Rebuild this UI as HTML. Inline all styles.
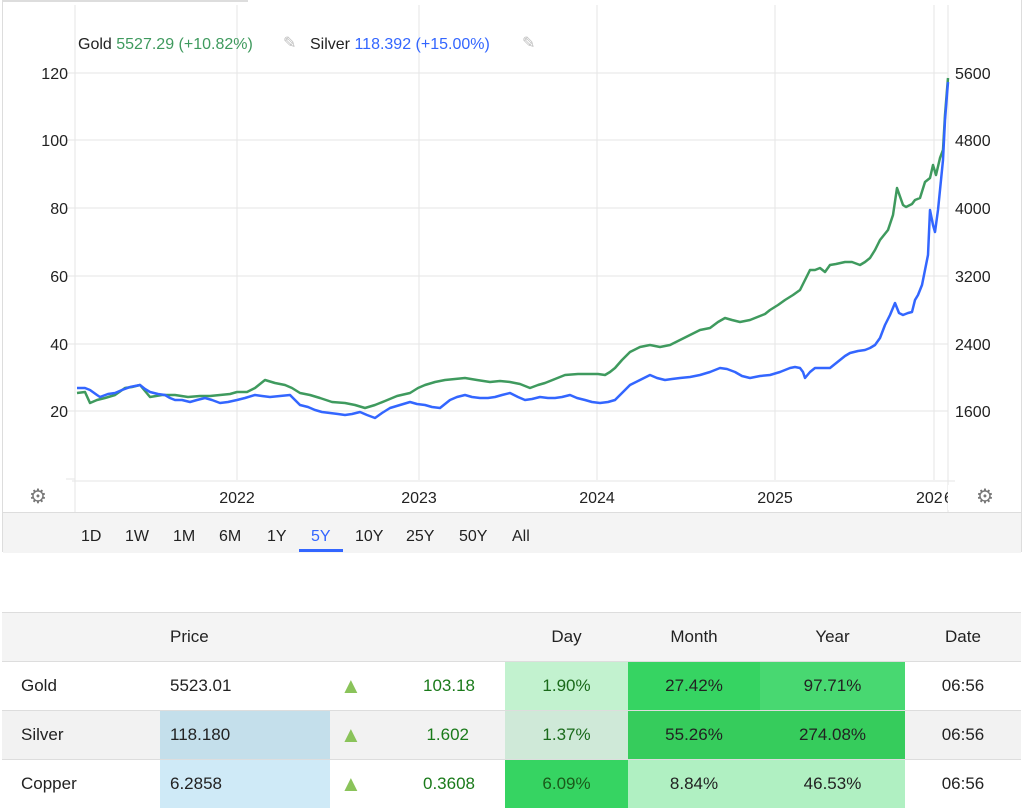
<!DOCTYPE html>
<html><head><meta charset="utf-8"><style>
body{margin:0;background:#fff;font-family:"Liberation Sans",Arial,sans-serif;width:1024px;height:809px;overflow:hidden;position:relative}
.abs{position:absolute}
table{position:absolute;left:2px;top:612px;width:1019px;border-collapse:collapse;font-size:17px;color:#222;table-layout:fixed}
td{height:48px;border-top:1px solid #ddd;padding:0}
.ar{color:#8ac35a;padding-left:10px;font-size:22px}
</style></head><body>
<div class="abs" style="left:2px;top:0;width:1018px;height:551px;border:1px solid #ddd;border-top:none"></div>
<div class="abs" style="left:2px;top:0;width:246px;height:2px;background:#ddd"></div>
<div class="abs" style="left:3px;top:512px;width:1018px;height:40px;background:#f4f4f4;border-top:1px solid #ddd"></div>
<svg class="abs" style="left:0;top:0" width="1024" height="560">
<g stroke="#e6e6e6" stroke-width="1">
<line x1="75" y1="73" x2="948" y2="73"/><line x1="75" y1="140" x2="948" y2="140"/><line x1="75" y1="208" x2="948" y2="208"/><line x1="75" y1="276" x2="948" y2="276"/><line x1="75" y1="344" x2="948" y2="344"/><line x1="75" y1="411" x2="948" y2="411"/>
<line x1="66" y1="73" x2="75" y2="73"/><line x1="66" y1="140" x2="75" y2="140"/><line x1="66" y1="208" x2="75" y2="208"/><line x1="66" y1="276" x2="75" y2="276"/><line x1="66" y1="344" x2="75" y2="344"/><line x1="66" y1="411" x2="75" y2="411"/><line x1="66" y1="479" x2="75" y2="479"/>
<line x1="237" y1="5" x2="237" y2="480"/><line x1="419" y1="5" x2="419" y2="480"/><line x1="597" y1="5" x2="597" y2="480"/><line x1="775" y1="5" x2="775" y2="480"/><line x1="934" y1="5" x2="934" y2="480"/>
<line x1="75" y1="5" x2="75" y2="512"/><line x1="948" y1="5" x2="948" y2="512"/><line x1="72" y1="481" x2="955" y2="481"/>
</g>
<g font-size="16" fill="#222">
<text x="68" y="79" text-anchor="end">120</text><text x="68" y="146" text-anchor="end">100</text><text x="68" y="214" text-anchor="end">80</text><text x="68" y="282" text-anchor="end">60</text><text x="68" y="350" text-anchor="end">40</text><text x="68" y="417" text-anchor="end">20</text>
<text x="955" y="79">5600</text><text x="955" y="146">4800</text><text x="955" y="214">4000</text><text x="955" y="282">3200</text><text x="955" y="350">2400</text><text x="955" y="417">1600</text>
<text x="237" y="503" text-anchor="middle">2022</text><text x="419" y="503" text-anchor="middle">2023</text><text x="597" y="503" text-anchor="middle">2024</text><text x="775" y="503" text-anchor="middle">2025</text><text x="916" y="503">202</text><text x="944" y="503">6</text>
</g>
<rect x="948" y="485" width="10" height="25" fill="#fff"/>
<g font-size="16"><text x="78" y="49" fill="#222">Gold <tspan fill="#3f9a5e">5527.29 (+10.82%)</tspan></text>
<text x="310" y="49" fill="#222">Silver <tspan fill="#3366ff">118.392 (+15.00%)</tspan></text></g>
<text x="283" y="48" font-size="16" fill="#bbb">✎</text><text x="522" y="48" font-size="16" fill="#bbb">✎</text>
<text x="29" y="503" font-size="20" fill="#777">⚙</text><text x="976" y="503" font-size="20" fill="#777">⚙</text>
<polyline fill="none" stroke="#3f9a5e" stroke-width="2.5" stroke-linejoin="round" points="77,393 85,392 90,403 97,400 105,398 115,395 125,388 132,387 140,385 150,397 162,395 175,395 188,397 200,396 210,396 220,395 230,394 237,392 247,392 255,388 265,380 275,383 285,385 292,388 300,393 310,395 320,398 332,402 345,403 355,405 365,408 375,405 385,401 397,396 410,393 418,388 425,385 435,382 445,380 455,379 465,378 477,380 490,382 500,381 510,382 520,384 530,388 538,385 545,383 555,379 565,375 578,374 590,374 598,374 605,375 610,372 615,368 622,360 630,352 640,347 650,345 660,347 670,345 680,340 690,335 700,330 710,328 718,322 725,318 732,320 740,322 750,320 760,316 765,314 770,310 778,305 785,300 793,295 800,290 805,280 810,270 815,270 820,268 825,272 830,265 836,264 845,262 852,262 860,265 865,262 870,258 875,250 880,240 888,230 893,215 897,188 903,205 906,207 912,204 915,200 920,198 925,182 930,178 933,165 936,175 940,158 943,150 945,115 947,90 948,78"/>
<polyline fill="none" stroke="#3366ff" stroke-width="2.5" stroke-linejoin="round" points="77,388 85,388 90,390 97,395 100,397 108,394 115,393 122,390 130,387 140,385 145,389 150,392 158,394 165,395 170,398 175,400 182,400 190,402 197,400 205,398 212,400 220,403 228,402 237,400 245,398 255,395 262,396 270,397 280,396 290,395 295,400 300,405 308,407 315,410 322,412 330,413 338,414 345,415 352,414 360,412 367,415 375,418 382,413 390,408 400,405 410,402 417,404 425,405 432,407 440,408 445,404 450,400 457,397 465,395 472,397 480,398 488,398 495,397 502,395 510,393 518,397 525,400 532,399 540,397 548,398 555,398 562,397 570,395 577,398 585,400 592,402 600,403 608,402 615,400 622,393 630,385 640,380 650,375 657,378 665,380 672,379 680,378 690,377 700,375 710,372 720,368 727,369 735,372 742,376 750,378 760,376 770,375 780,372 790,368 795,367 800,368 803,372 805,378 810,372 815,368 822,368 830,368 835,364 840,360 845,356 850,353 858,351 865,350 870,348 875,345 880,338 885,325 890,315 895,303 899,313 903,315 908,313 912,312 915,300 918,295 922,285 925,270 928,255 930,210 933,225 935,232 938,210 940,190 943,160 945,120 948,82"/>
<g font-size="16" fill="#222">
<text x="81" y="541">1D</text><text x="125" y="541">1W</text><text x="173" y="541">1M</text><text x="219" y="541">6M</text><text x="267" y="541">1Y</text><text x="311" y="541" fill="#3366ff">5Y</text><text x="355" y="541">10Y</text><text x="406" y="541">25Y</text><text x="459" y="541">50Y</text><text x="512" y="541">All</text>
</g>
<rect x="299" y="549" width="44" height="3" fill="#3366ff"/>
</svg>
<table>
<colgroup><col style="width:158px"><col style="width:170px"><col style="width:70px"><col style="width:105px"><col style="width:123px"><col style="width:132px"><col style="width:145px"><col style="width:116px"></colgroup>
<tr style="background:#f4f4f4"><td></td><td style="padding-left:10px">Price</td><td></td><td></td><td style="text-align:center">Day</td><td style="text-align:center">Month</td><td style="text-align:center">Year</td><td style="text-align:center">Date</td></tr>
<tr><td style="padding-left:19px">Gold</td><td style="padding-left:10px">5523.01</td><td class="ar">▲</td><td style="color:#1a7a1a;text-align:right;padding-right:30px">103.18</td><td style="background:#c2f2cf;color:#1a6a1a;text-align:center">1.90%</td><td style="background:#36d462;text-align:center">27.42%</td><td style="background:#48d871;text-align:center">97.71%</td><td style="text-align:center">06:56</td></tr>
<tr style="background:#f2f2f2"><td style="padding-left:19px">Silver</td><td style="padding-left:10px;background:#c4dfeb">118.180</td><td class="ar">▲</td><td style="color:#1a7a1a;text-align:right;padding-right:36px">1.602</td><td style="background:#cfe9d8;color:#1a6a1a;text-align:center">1.37%</td><td style="background:#36cc5c;text-align:center">55.26%</td><td style="background:#36cc5c;text-align:center">274.08%</td><td style="text-align:center">06:56</td></tr>
<tr><td style="padding-left:19px">Copper</td><td style="padding-left:10px;background:#cfeaf7">6.2858</td><td class="ar">▲</td><td style="color:#1a7a1a;text-align:right;padding-right:30px">0.3608</td><td style="background:#36d462;color:#1a5a1a;text-align:center">6.09%</td><td style="background:#b0f0c2;text-align:center">8.84%</td><td style="background:#b0f0c2;text-align:center">46.53%</td><td style="text-align:center">06:56</td></tr>
</table>
</body></html>
